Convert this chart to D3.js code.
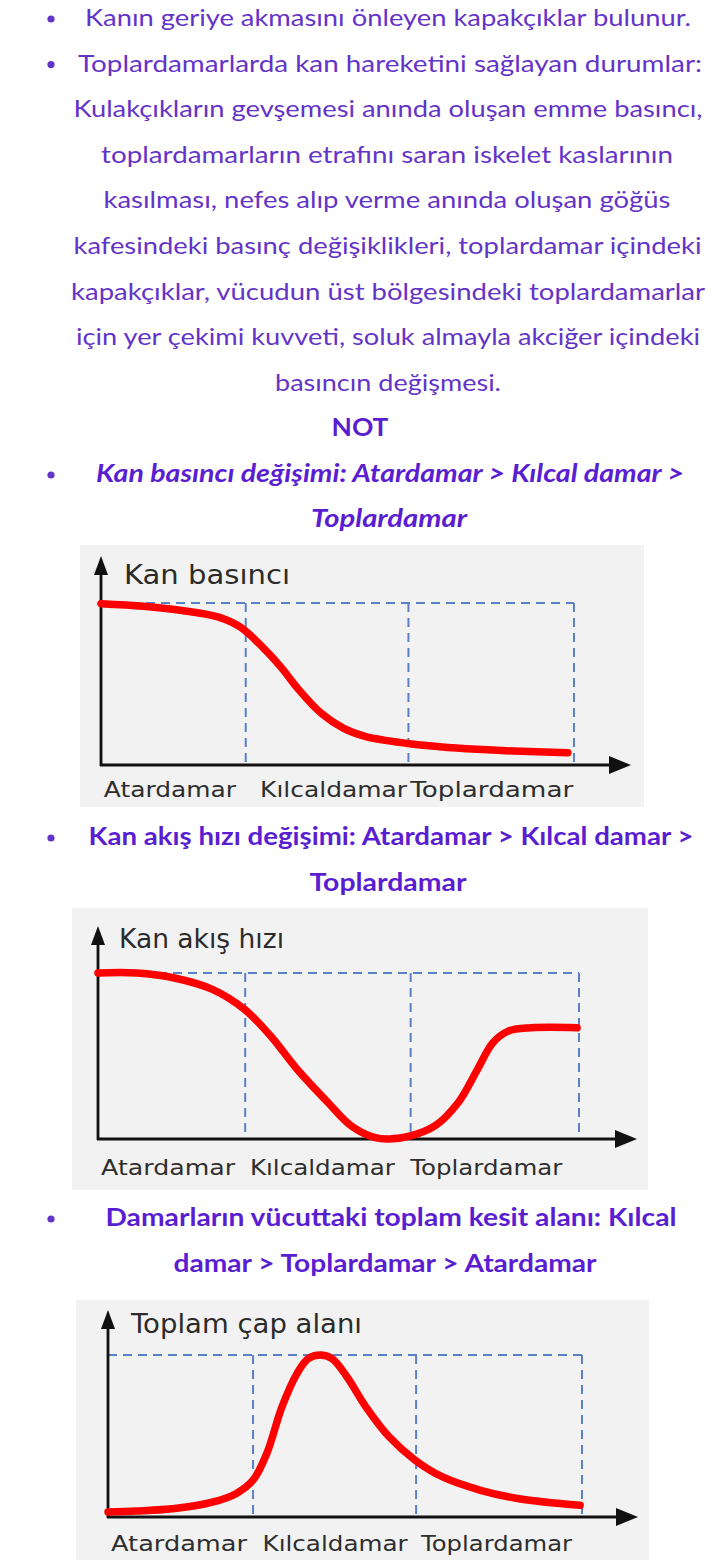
<!DOCTYPE html>
<html><head><meta charset="utf-8">
<script src="https://cdn.jsdelivr.net/npm/d3@7"></script>
<style>html,body{margin:0;padding:0;background:#fff;}svg{display:block;}</style>
</head><body>
<svg id="page" width="720" height="1560"></svg>
<script>
// ---------------- DATA ----------------
const introLines = [
  "Kanın geriye akmasını önleyen kapakçıklar bulunur.",
  "Toplardamarlarda kan hareketini sağlayan durumlar:",
  "Kulakçıkların gevşemesi anında oluşan emme basıncı,",
  "toplardamarların etrafını saran iskelet kaslarının",
  "kasılması, nefes alıp verme anında oluşan göğüs",
  "kafesindeki basınç değişiklikleri, toplardamar içindeki",
  "kapakçıklar, vücudun üst bölgesindeki toplardamarlar",
  "için yer çekimi kuvveti, soluk almayla akciğer içindeki",
  "basıncın değişmesi."
];
const noteTitle = "NOT";
const heading1 = ["Kan basıncı değişimi: Atardamar > Kılcal damar >", "Toplardamar"];
const heading2 = ["Kan akış hızı değişimi: Atardamar > Kılcal damar >", "Toplardamar"];
const heading3 = ["Damarların vücuttaki toplam kesit alanı: Kılcal", "damar > Toplardamar > Atardamar"];

const categories = ["Atardamar", "Kılcaldamar", "Toplardamar"];
const segmentBounds = [0, 30.6, 65, 100];          // vessel position (%)
const chartTitles = ["Kan basıncı", "Kan akış hızı", "Toplam çap alanı"];

// Kan basıncı (relative %, 100 = dashed top line)
const pressureX = [0, 9, 16.8, 24.7, 29.4, 34.1, 38, 41.9, 46.6, 51.3, 56, 64.8, 71.6, 79.5, 87.3, 98.7];
const pressureY = [99.6, 98, 95.5, 91.4, 85.2, 72.9, 60.6, 46.2, 31.8, 22.6, 17.5, 13.3, 11.3, 9.7, 8.6, 7.6];
// Kan akış hızı
const flowX = [0, 8, 15.9, 23.9, 30.5, 35.9, 41.4, 47.8, 52.6, 57.4, 60.6, 65.2, 70.1, 74.9, 78.9, 82.1, 85.3, 90, 99.6];
const flowY = [100, 100, 97, 90, 78, 62, 42, 22, 8, 1, 0, 2, 8, 22, 42, 58, 65, 67, 67];
// Toplam çap alanı
const areaX = [0, 6, 14.1, 22.2, 27, 30.6, 33.5, 36.7, 39.9, 42.3, 44.8, 47.2, 50.4, 54.4, 59.3, 64.8, 70.6, 78.6, 86.7, 99.6];
const areaY = [3.1, 3.7, 5.2, 9.3, 14.4, 22.7, 39.2, 68, 88.7, 97.9, 100, 97.9, 86.6, 68, 49.5, 35.1, 24.7, 16.5, 11.3, 7.2];

// ---------------- LAYOUT ----------------
const svg = d3.select("#page");
const REG = "#6434c8", BOLD = "#5a1ed2";
const bodyFont = "Lato, 'Open Sans', sans-serif";
const lineGap = 45.6;

function bullet(y) {
  svg.append("circle").attr("cx", 51).attr("cy", y - 7).attr("r", 3.6).attr("fill", REG);
}
function line(txt, cx, y, w, opts = {}) {
  const t = svg.append("text").text(txt)
    .attr("x", cx).attr("y", y)
    .attr("text-anchor", "middle")
    .attr("font-family", bodyFont)
    .attr("font-size", opts.size || 24)
    .attr("font-weight", opts.bold ? 700 : 400)
    .attr("font-style", opts.italic ? "italic" : "normal")
    .attr("fill", opts.bold ? BOLD : REG);
  if (w) t.attr("textLength", w).attr("lengthAdjust", "spacingAndGlyphs");
  return t;
}

// intro text
const introW = [606, 624, 629, 572, 567, 628, 634, 624, 226];
const introCX = [388, 390, 388, 387, 387, 387.5, 388, 388, 388];
introLines.forEach((s, i) => {
  const y = 26 + i * lineGap;
  line(s, introCX[i], y, introW[i]);
  if (i < 2) bullet(y);
});
line(noteTitle, 360, 436, 57, {bold: true});

// headings
line(heading1[0], 390, 482, 588, {bold: true, italic: true}); bullet(482);
line(heading1[1], 389, 527, 156, {bold: true, italic: true});
line(heading2[0], 391, 845, 605, {bold: true}); bullet(845);
line(heading2[1], 388, 891, 157, {bold: true});
line(heading3[0], 391, 1226, 571, {bold: true}); bullet(1226);
line(heading3[1], 385, 1272, 423, {bold: true});

// ---------------- CHARTS ----------------
const charts = [
  {title: chartTitles[0], xs: pressureX, ys: pressureY,
   bg: [80, 545, 564, 262], x0: 101, xr: 574, y0: 765, yt: 603, tipY: 556, tipX: 631,
   titleX: 124, titleY: 584, titleW: 166, labelY: 797, labelW: [132, 147, 163], labelDx: [-4, 6, 0]},
  {title: chartTitles[1], xs: flowX, ys: flowY,
   bg: [72, 908, 576, 282], x0: 98, xr: 579, y0: 1139, yt: 973, tipY: 926, tipX: 637,
   titleX: 119, titleY: 948, titleW: 165, labelY: 1175, labelW: [134, 145, 152], labelDx: [-4, -6, -9]},
  {title: chartTitles[2], xs: areaX, ys: areaY,
   bg: [76, 1300, 573, 260], x0: 108, xr: 582, y0: 1517, yt: 1355, tipY: 1310, tipX: 638,
   titleX: 131, titleY: 1333, titleW: 231, labelY: 1551, labelW: [136, 145, 151], labelDx: [-2, 0, -3]}
];

const labelFont = "'DejaVu Sans', 'Noto Sans', sans-serif";

charts.forEach(c => {
  const g = svg.append("g");
  g.append("rect").attr("x", c.bg[0]).attr("y", c.bg[1]).attr("width", c.bg[2]).attr("height", c.bg[3])
    .attr("fill", "#f2f2f2");

  const x = d3.scaleLinear().domain([0, 100]).range([c.x0, c.xr]);
  const y = d3.scaleLinear().domain([0, 100]).range([c.y0, c.yt]);

  // dashed guides
  const dash = {stroke: "#5b80c6", w: 2, da: "9,6"};
  g.append("line").attr("x1", x(0)).attr("x2", x(100)).attr("y1", y(100)).attr("y2", y(100))
    .attr("stroke", dash.stroke).attr("stroke-width", dash.w).attr("stroke-dasharray", dash.da);
  g.selectAll("line.v").data(segmentBounds.slice(1)).join("line").attr("class", "v")
    .attr("x1", d => x(d)).attr("x2", d => x(d)).attr("y1", y(100)).attr("y2", y(0))
    .attr("stroke", dash.stroke).attr("stroke-width", dash.w).attr("stroke-dasharray", dash.da);

  // axes with arrows
  g.append("line").attr("x1", x(0)).attr("x2", x(0)).attr("y1", y(0) + 1).attr("y2", c.tipY + 14)
    .attr("stroke", "#111").attr("stroke-width", 2.8);
  g.append("line").attr("x1", x(0) - 1).attr("x2", c.tipX - 16).attr("y1", y(0)).attr("y2", y(0))
    .attr("stroke", "#111").attr("stroke-width", 2.8);
  g.append("path").attr("d", `M${x(0)},${c.tipY} L${x(0) - 7},${c.tipY + 19} L${x(0) + 7},${c.tipY + 19} Z`).attr("fill", "#111");
  g.append("path").attr("d", `M${c.tipX},${y(0)} L${c.tipX - 22},${y(0) - 9} L${c.tipX - 22},${y(0) + 9} Z`).attr("fill", "#111");

  // title
  g.append("text").text(c.title).attr("x", c.titleX).attr("y", c.titleY)
    .attr("font-family", labelFont).attr("font-size", 26).attr("fill", "#2b2b2b")
    .attr("textLength", c.titleW).attr("lengthAdjust", "spacingAndGlyphs");

  // category labels via axis
  const centers = d3.range(categories.length).map(i => (segmentBounds[i] + segmentBounds[i + 1]) / 2);
  const ax = g.append("g").attr("transform", `translate(0,${c.y0})`)
    .call(d3.axisBottom(x).tickValues(centers).tickFormat((d, i) => categories[i]).tickSize(0));
  ax.select(".domain").remove();
  ax.selectAll("text")
    .attr("y", c.labelY - c.y0).attr("dy", 0)
    .attr("dx", (d, i) => c.labelDx[i])
    .attr("font-family", labelFont).attr("font-size", 22).attr("fill", "#2e2e2e")
    .attr("textLength", (d, i) => c.labelW[i]).attr("lengthAdjust", "spacingAndGlyphs");

  // red curve
  const pts = c.xs.map((v, i) => [v, c.ys[i]]);
  g.append("path").datum(pts)
    .attr("d", d3.line().x(d => x(d[0])).y(d => y(d[1])).curve(d3.curveCatmullRom.alpha(0.5)))
    .attr("fill", "none").attr("stroke", "#ff0000").attr("stroke-width", 7.5)
    .attr("stroke-linecap", "round").attr("stroke-linejoin", "round");
});
</script>
</body></html>
